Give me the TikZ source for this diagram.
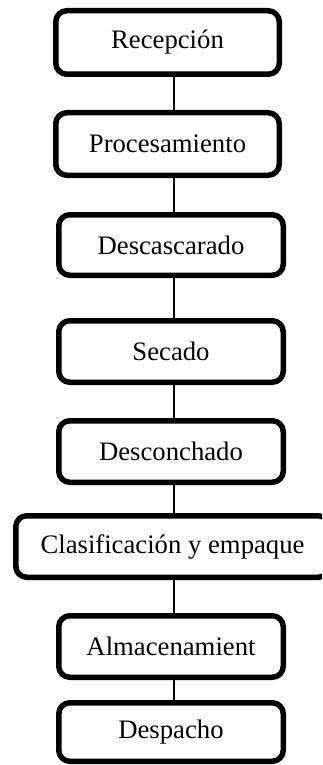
\documentclass[tikz,border=0pt]{standalone}
\usepackage{fontspec}
\setmainfont{Liberation Serif}
\begin{document}
\begin{tikzpicture}[x=1pt,y=-1pt,
  stepbox/.style={draw=black, line width=5.5pt, rounded corners=11pt, fill=white,
    inner sep=0pt, font=\fontsize{26.7}{32}\selectfont, text=black},
  link/.style={draw=black, line width=1.2pt}]
\useasboundingbox (0,0) rectangle (322,765);
\clip (0,0) rectangle (322,765);
\fill[white] (0,0) rectangle (322,765);
\node[stepbox, minimum width=223.5pt, minimum height=63.5pt] (rec) at (167.5,42.5) {Recepción};
\node[stepbox, minimum width=223.5pt, minimum height=62.5pt] (pro) at (167.5,144) {Procesamiento};
\node[stepbox, minimum width=224.5pt, minimum height=60.5pt] (desc) at (171,245) {Descascarado};
\node[stepbox, minimum width=224.5pt, minimum height=61.5pt] (sec) at (171,351.5) {Secado};
\node[stepbox, minimum width=224.5pt, minimum height=61.5pt] (dcon) at (171,451.5) {Desconchado};
\node[stepbox, minimum width=313.5pt, minimum height=61.5pt] (cla) at (172.5,546.5) {Clasificación y empaque};
\node[stepbox, minimum width=224.5pt, minimum height=61.5pt] (alm) at (171,646.5) {Almacenamient};
\node[stepbox, minimum width=224.5pt, minimum height=58.5pt] (desp) at (171,732) {Despacho};
\draw[link] (rec.south -| 174,0) -- (pro.north -| 174,0);
\draw[link] (pro.south -| 174,0) -- (desc.north -| 174,0);
\draw[link] (desc.south -| 174,0) -- (sec.north -| 174,0);
\draw[link] (sec.south -| 174,0) -- (dcon.north -| 174,0);
\draw[link] (dcon.south -| 174,0) -- (cla.north -| 174,0);
\draw[link] (cla.south -| 174,0) -- (alm.north -| 174,0);
\draw[link] (alm.south -| 174,0) -- (desp.north -| 174,0);
\end{tikzpicture}
\end{document}
